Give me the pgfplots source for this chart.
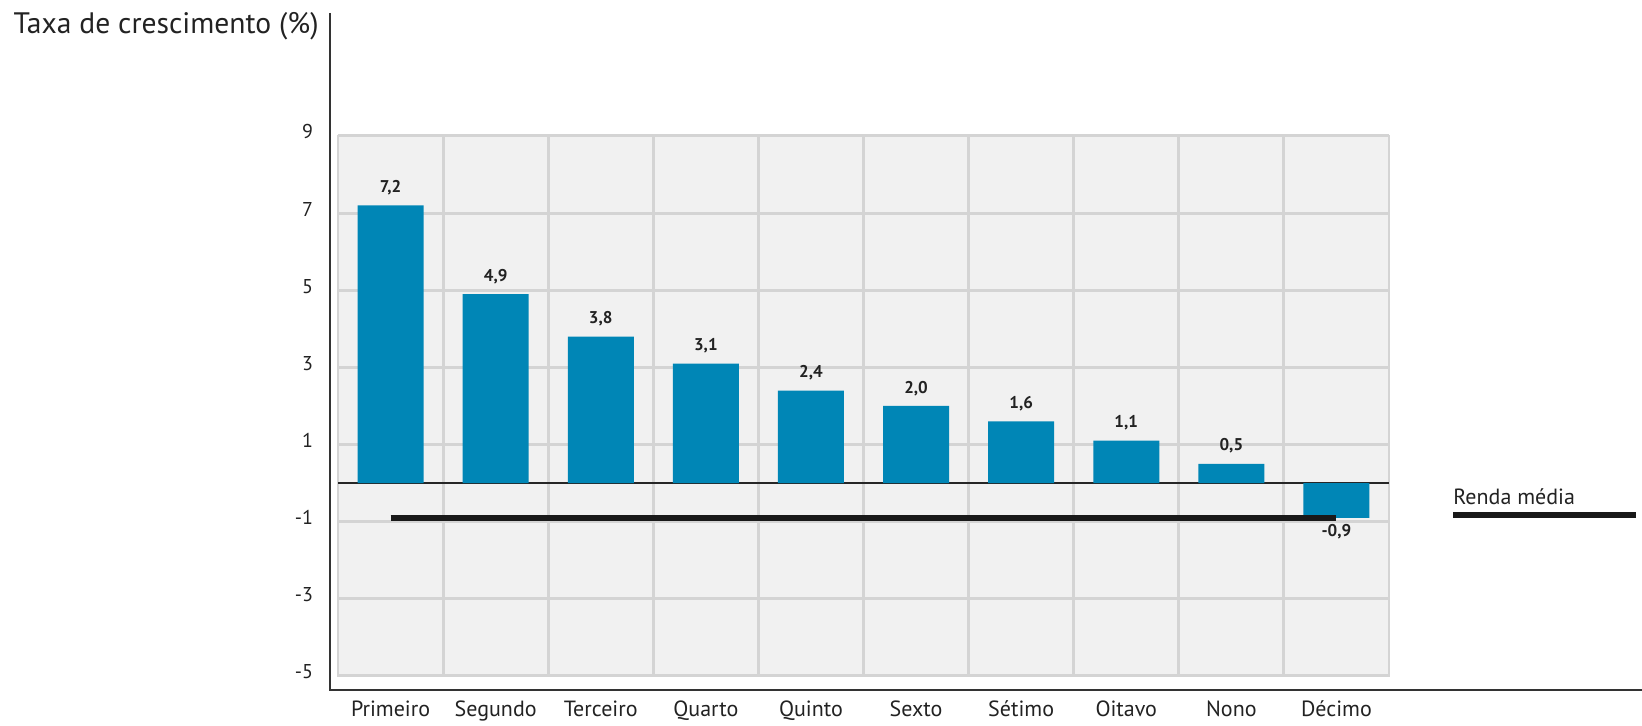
\documentclass[border=0pt]{standalone}
\usepackage{pgfplots}
\pgfplotsset{compat=1.18}
\usepackage{fontspec}
\setmainfont{PT Sans}
\definecolor{barblue}{HTML}{0086B6}
\definecolor{panel}{HTML}{F1F1F1}
\definecolor{gridc}{HTML}{D4D4D4}
\definecolor{txt}{HTML}{222222}
\begin{document}
\begin{tikzpicture}[x=1pt,y=1pt]
\path[use as bounding box] (0,0) rectangle (821,363);
\begin{axis}[
  at={(169pt,25pt)}, anchor=south west, scale only axis,
  width=525.5pt, height=270pt,
  xmin=-0.5, xmax=9.5, ymin=-5, ymax=9,
  axis background/.style={fill=panel},
  axis line style={draw=gridc, line width=1.2pt},
  xtick={0,...,9},
  xticklabels={Primeiro,Segundo,Terceiro,Quarto,Quinto,Sexto,Sétimo,Oitavo,Nono,Décimo},
  minor xtick={0.5,1.5,...,8.5},
  xminorgrids, minor grid style={gridc, line width=1.5pt},
  ytick={-5,-3,-1,1,3,5,7,9},
  yticklabels={-5,-3,-1,1,3,5,7,9},
  ymajorgrids, major grid style={gridc, line width=1.5pt},
  extra y ticks={0}, extra y tick labels={},
  extra y tick style={ymajorgrids=true, major grid style={black!85, line width=0.8pt}},
  major tick length=0pt, minor tick length=0pt, tick style={draw=none},
  ticklabel style={text=txt},
  yticklabel style={font=\fontsize{10}{12}\selectfont, xshift=-9pt, yshift=2pt},
  xticklabel style={font=\fontsize{11}{13}\selectfont, yshift=-9pt},
]
\addplot[ybar, bar width=33pt, fill=barblue, draw=none,
  nodes near coords, point meta=explicit symbolic,
  every node near coord/.append style={font=\bfseries\fontsize{8.5}{10}\selectfont, text=txt, inner sep=5pt}]
  table[meta=lab] {
x y lab
0 7.2 7,2
1 4.9 4,9
2 3.8 3,8
3 3.1 3,1
4 2.4 2,4
5 2.0 2,0
6 1.6 1,6
7 1.1 1,1
8 0.5 0,5
9 -0.9 {}
};
\addplot[line width=3.2pt, color=black!90, forget plot] coordinates {(0,-0.9) (9,-0.9)};
\addplot[draw=none, mark=none, forget plot,
  nodes near coords, point meta=explicit symbolic,
  every node near coord/.append style={anchor=north, font=\bfseries\fontsize{8.5}{10}\selectfont, text=txt, inner sep=3pt}]
  coordinates {(9,-0.9) [-0,9]};
\end{axis}
\draw[line width=1pt, black!80] (165,356.5) -- (165,18) -- (821,18);
\node[anchor=east, font=\fontsize{14.8}{17}\selectfont, text=txt, inner sep=0pt] at (159.5,350) {Taxa de crescimento (\%)};
\node[anchor=west, font=\fontsize{11}{13}\selectfont, text=txt, inner sep=0pt] at (726.5,114.5) {Renda média};
\draw[line width=3.2pt, black!90] (726.5,105.5) -- (818,105.5);
\end{tikzpicture}
\end{document}
